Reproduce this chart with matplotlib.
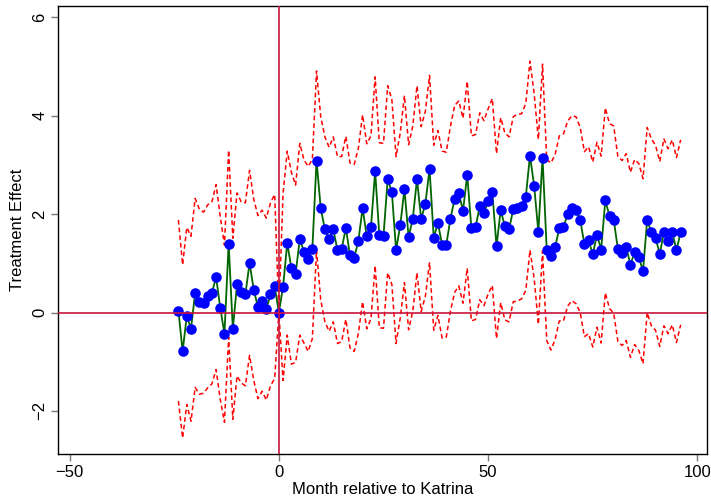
#!/usr/bin/env python3
"""Event-study plot: monthly treatment effect relative to Katrina, with CI bands."""
import numpy as np
import matplotlib
matplotlib.use("Agg")
import matplotlib.pyplot as plt

plt.rcParams['font.family'] = ['Liberation Sans', 'DejaVu Sans']

COLORS = {
    'point': '#0000ff',
    'line': '#006400',
    'ci': '#ff0000',
    'ref': '#c8143c',
}

# months relative to the storm
months = list(range(-24, 97))

# point estimates
est_pre = [0.04, -0.79, -0.07, -0.33, 0.40, 0.22, 0.20, 0.33, 0.40, 0.72,
           0.09, -0.43, 1.40, -0.33, 0.57, 0.41, 0.37, 1.01, 0.46, 0.11,
           0.24, 0.07, 0.37, 0.53]
est_zero = [0.00]
est_post = [0.52, 1.41, 0.90, 0.79, 1.49, 1.24, 1.09, 1.29, 3.09, 2.12,
            1.69, 1.49, 1.69, 1.27, 1.29, 1.72, 1.16, 1.11, 1.46, 2.12,
            1.55, 1.73, 2.87, 1.57, 1.56, 2.71, 2.45, 1.27, 1.77, 2.51,
            1.53, 1.91, 2.71, 1.90, 2.21, 2.92, 1.52, 1.82, 1.38, 1.38,
            1.91, 2.31, 2.42, 2.07, 2.80, 1.71, 1.74, 2.16, 2.02, 2.26,
            2.45, 1.35, 2.08, 1.75, 1.69, 2.10, 2.13, 2.16, 2.35, 3.19,
            2.57, 1.64, 3.15, 1.27, 1.14, 1.33, 1.71, 1.73, 2.01, 2.12,
            2.08, 1.88, 1.39, 1.47, 1.18, 1.58, 1.28, 2.28, 1.96, 1.89,
            1.29, 1.21, 1.33, 0.97, 1.23, 1.13, 0.84, 1.88, 1.63, 1.52,
            1.19, 1.63, 1.45, 1.63, 1.27, 1.63]

# half-width of the confidence band
ci_pre = [1.84, 1.76, 1.80, 1.88, 1.92, 1.88, 1.84, 1.86, 1.85, 1.88,
          1.86, 1.80, 1.90, 1.84, 1.86, 1.84, 1.86, 1.88, 1.84, 1.86,
          1.84, 1.85, 1.86, 1.87]
ci_zero = [0.00]
ci_post = [1.90, 1.87, 1.95, 1.80, 1.95, 1.86, 1.88, 1.82, 1.82, 1.86,
           1.88, 1.87, 1.88, 1.90, 1.88, 1.86, 1.88, 1.90, 1.88, 1.90,
           1.88, 1.86, 1.92, 1.88, 1.88, 1.90, 1.88, 1.90, 1.88, 1.90,
           1.88, 1.88, 1.90, 1.88, 1.88, 1.90, 1.88, 1.88, 1.90, 1.88,
           1.88, 1.90, 1.88, 1.88, 1.90, 1.88, 1.88, 1.90, 1.88, 1.88,
           1.90, 1.88, 1.88, 1.90, 1.88, 1.88, 1.90, 1.88, 1.90, 1.92,
           1.88, 1.88, 1.90, 1.84, 1.90, 1.88, 1.88, 1.90, 1.88, 1.88,
           1.90, 1.88, 1.88, 1.90, 1.88, 1.88, 1.90, 1.88, 1.88, 1.90,
           1.88, 1.88, 1.90, 1.88, 1.88, 1.90, 1.88, 1.88, 1.90, 1.88,
           1.88, 1.90, 1.88, 1.88, 1.88, 1.88]

x_ticks = [-50, 0, 50, 100]
y_ticks = [-2, 0, 2, 4, 6]


def main():
    x = np.array(months)
    est = np.array(est_pre + est_zero + est_post)
    half = np.array(ci_pre + ci_zero + ci_post)
    upper = est + half
    lower = est - half

    fig = plt.figure(figsize=(7.11, 5.03), dpi=100)
    ax = fig.add_axes([0.082, 0.097, 0.913, 0.891])

    # confidence band
    ax.plot(x, upper, color=COLORS['ci'], lw=1.1, dashes=(3, 2), zorder=2)
    ax.plot(x, lower, color=COLORS['ci'], lw=1.1, dashes=(3, 2), zorder=2)

    # estimates
    ax.plot(x, est, color=COLORS['line'], lw=1.3, zorder=3)
    ax.plot(x, est, 'o', color=COLORS['point'], ms=7.6, mec='none', zorder=4)

    # reference lines
    ax.axhline(0, color=COLORS['ref'], lw=1.2, zorder=5)
    ax.axvline(0, color=COLORS['ref'], lw=1.2, zorder=5)

    ax.set_xlim(-52.7, 102.4)
    ax.set_ylim(-2.88, 6.23)
    ax.set_xticks(x_ticks)
    ax.set_yticks(y_ticks)
    ax.set_yticklabels([f'{v}'.replace('-', '\u2212') for v in y_ticks],
                       rotation=90, va='center')

    ax.tick_params(direction='out', length=5, width=1, color='#777777',
                   labelsize=12, pad=3)
    for spine in ax.spines.values():
        spine.set_linewidth(1)
        spine.set_color('black')

    ax.set_xlabel('Month relative to Katrina', fontsize=12, labelpad=1)
    ax.set_ylabel('Treatment Effect', fontsize=12, labelpad=5)

    fig.savefig('out.png', dpi=100)
    plt.close(fig)


if __name__ == '__main__':
    main()
